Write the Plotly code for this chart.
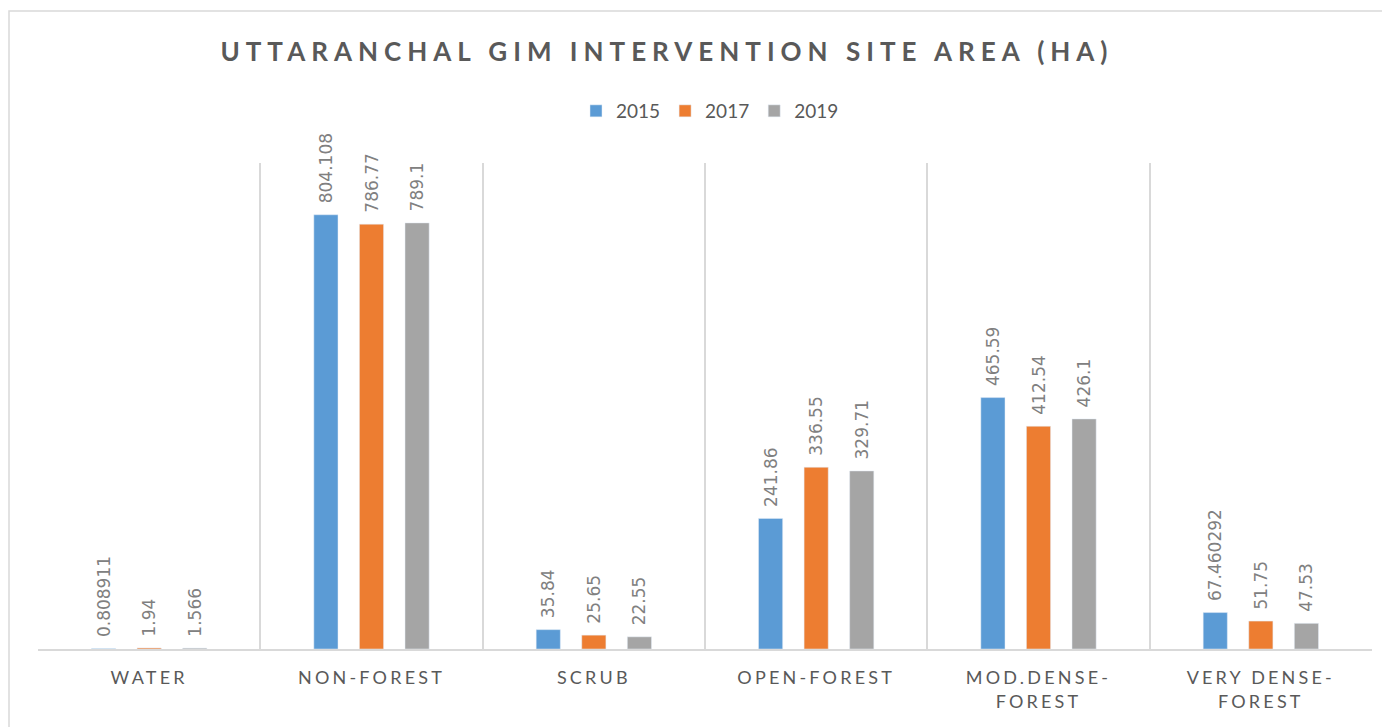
import plotly.graph_objects as go

categories = ["WATER", "NON-FOREST", "SCRUB", "OPEN-FOREST", "MOD.DENSE-<br>FOREST", "VERY DENSE-<br>FOREST"]
years = ["2015", "2017", "2019"]
v2015 = [0.808911, 804.108, 35.84, 241.86, 465.59, 67.460292]
v2017 = [1.94, 786.77, 25.65, 336.55, 412.54, 51.75]
v2019 = [1.566, 789.1, 22.55, 329.71, 426.1, 47.53]
labels2015 = ["0.808911", "804.108", "35.84", "241.86", "465.59", "67.460292"]
labels2017 = ["1.94", "786.77", "25.65", "336.55", "412.54", "51.75"]
labels2019 = ["1.566", "789.1", "22.55", "329.71", "426.1", "47.53"]
colors = ["#5B9BD5", "#ED7D31", "#A5A5A5"]

# page body has an 8px margin; figure coordinates = screen coordinates - 8
OFF = 8
W, H = 1390 - OFF, 727 - OFF
ml = 38 - OFF
mt = 163 - OFF
mr = W - (1372 - OFF)
mb = H - (649 - OFF)
pw, ph = W - ml - mr, H - mt - mb

def spaced(s, px):
    return "<br>".join(f'<span style="letter-spacing:{px}px">{p}</span>' for p in s.split("<br>"))

fig = go.Figure()
for yr, vals, labs, col in zip(years, [v2015, v2017, v2019], [labels2015, labels2017, labels2019], colors):
    fig.add_trace(go.Bar(
        name=yr, x=categories, y=vals, marker_color=col,
        text=labs, texttemplate="\u2002%{text}", textposition="outside", textangle=-90,
        textfont=dict(family="DejaVu Sans", size=17, color="#808080"),
        cliponaxis=False, constraintext="none",
    ))

def sx(px):  # screen x -> paper x
    return (px - OFF - ml) / pw

def sy(py):  # screen y -> paper y
    return (H - mb - (py - OFF)) / ph

fig.add_shape(type="rect", xref="paper", yref="paper",
              x0=sx(9), x1=sx(1400), y0=sy(740), y1=sy(11),
              line=dict(color="#D9D9D9", width=1.5), fillcolor="rgba(0,0,0,0)", layer="below")

fig.update_layout(
    width=W, height=H,
    margin=dict(l=ml, r=mr, t=mt, b=mb, autoexpand=False),
    paper_bgcolor="white", plot_bgcolor="white",
    barmode="group", bargap=0.385, bargroupgap=0.47,
    title=dict(text="<b>" + spaced("UTTARANCHAL GIM INTERVENTION SITE AREA (HA)", 6) + "</b>",
               xref="paper", x=sx(667), xanchor="center", y=1 - (52 - OFF) / H, yanchor="middle",
               font=dict(family="Lato", size=26, color="#595959")),
    legend=dict(orientation="h", x=sx(710), xanchor="center", y=sy(111), yanchor="middle",
                font=dict(family="Lato", size=19, color="#595959"), itemwidth=30,
                traceorder="normal"),
    showlegend=True,
    xaxis=dict(type="category", tickson="boundaries", showgrid=True, gridcolor="#D9D9D9", gridwidth=1.5,
               showline=True, linecolor="#D9D9D9", linewidth=1.5, ticks="", automargin=False,
               ticklabelstandoff=12,
               tickfont=dict(family="Lato", size=18, color="#595959"),
               tickvals=categories, ticktext=[spaced(c, 3.2) for c in categories]),
    yaxis=dict(range=[0, 900], visible=False, showgrid=False, zeroline=False, automargin=False),
)

fig.write_html("out.html")
